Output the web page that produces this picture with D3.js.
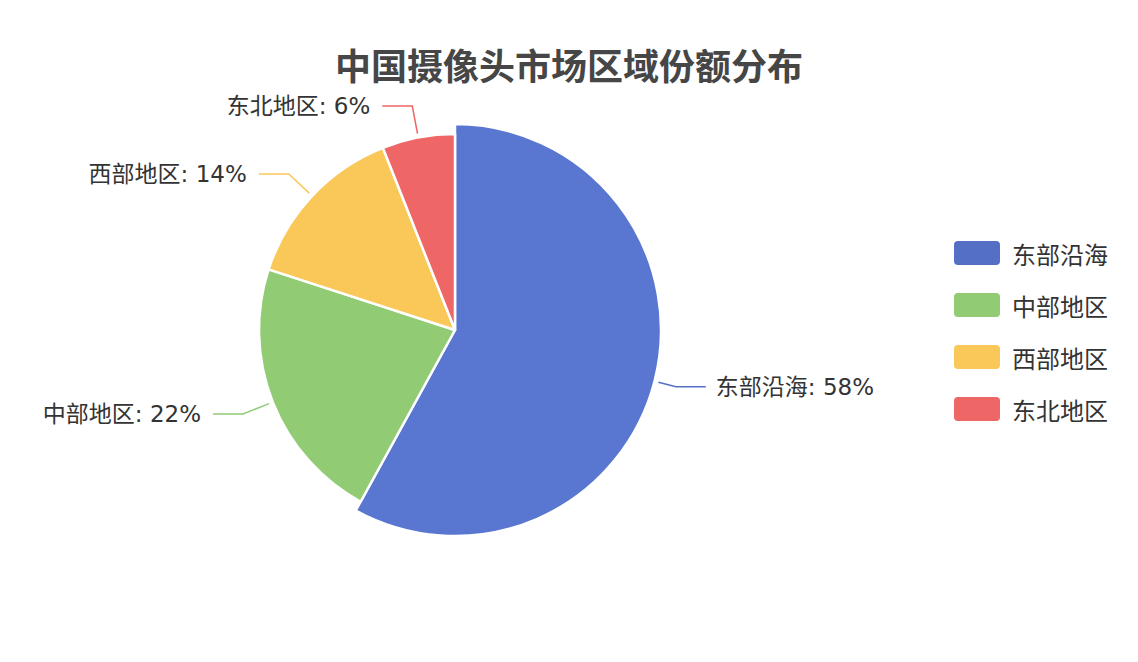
<!DOCTYPE html>
<html>
<head>
<meta charset="utf-8">
<script src="https://cdn.jsdelivr.net/npm/d3@7/dist/d3.min.js"></script>
<style>
  body { margin: 0; background: #fff; }
  svg text { font-family: "Microsoft YaHei", "Noto Sans CJK SC", sans-serif; }
  svg text.pie-label { font-family: "DejaVu Sans", "Noto Sans CJK SC", sans-serif; }
</style>
</head>
<body>
<div id="chart"></div>
<script>
// data
var regions = ["东部沿海", "中部地区", "西部地区", "东北地区"];
var shares = [58, 22, 14, 6];
var colors = ["#5470c6", "#91cc75", "#fac858", "#ee6666"];
var chartTitle = "中国摄像头市场区域份额分布";

var width = 1138,
    height = 662,
    cx = 455,
    cy = 330,
    radius = 196,
    hoverIndex = 0; // first slice drawn enlarged, as in the picture

var svg = d3.select("#chart").append("svg")
    .attr("width", width)
    .attr("height", height);

// title
svg.append("text")
    .attr("x", width / 2)
    .attr("y", 64)
    .attr("text-anchor", "middle")
    .attr("dominant-baseline", "central")
    .style("font-size", "36px")
    .style("font-weight", "bold")
    .style("fill", "#464646")
    .text(chartTitle);

var data = regions.map(function (r, i) { return { name: r, value: shares[i], color: colors[i], i: i }; });

var pie = d3.pie()
    .sort(null)
    .value(function (d) { return d.value; });

var arcs = pie(data);

function outerR(d) { return d.data.i === hoverIndex ? radius + 10 : radius; }

var arc = d3.arc()
    .innerRadius(0)
    .outerRadius(outerR);

var g = svg.append("g")
    .attr("transform", "translate(" + cx + "," + cy + ")");

g.selectAll(".slice")
    .data(arcs)
    .enter().append("path")
    .attr("class", "slice")
    .attr("d", arc)
    .style("fill", function (d) { return d.data.i === hoverIndex ? d3.color(d.data.color).brighter(0.15) : d.data.color; })
    .style("stroke", "#fff")
    .style("stroke-width", 2.5)
    .style("stroke-linejoin", "round");

// label lines and labels
var elbowR = radius + 32,
    len2 = 30;

function mid(d) { return (d.startAngle + d.endAngle) / 2; }

var labels = g.selectAll(".label")
    .data(arcs)
    .enter().append("g")
    .attr("class", "label");

labels.append("polyline")
    .attr("points", function (d) {
        var a = mid(d), s = Math.sin(a), c = -Math.cos(a);
        var r0 = outerR(d) + 4;
        var p1 = [r0 * s, r0 * c],
            p2 = [elbowR * s, elbowR * c],
            p3 = [p2[0] + (s > 0 ? len2 : -len2), p2[1]];
        return [p1, p2, p3].map(function (p) { return p.join(","); }).join(" ");
    })
    .style("fill", "none")
    .style("stroke", function (d) { return d.data.color; })
    .style("stroke-width", 1.5);

labels.append("text")
    .attr("class", "pie-label")
    .attr("x", function (d) {
        var s = Math.sin(mid(d));
        return elbowR * s + (s > 0 ? len2 + 10 : -len2 - 12);
    })
    .attr("y", function (d) { return -elbowR * Math.cos(mid(d)); })
    .attr("text-anchor", function (d) { return Math.sin(mid(d)) > 0 ? "start" : "end"; })
    .attr("dominant-baseline", "central")
    .style("font-size", "23px")
    .style("fill", "#333")
    .text(function (d) { return d.data.name + ": " + d.data.value + "%"; });

// legend
var legend = svg.append("g")
    .attr("transform", "translate(954,253)");

var item = legend.selectAll(".item")
    .data(data)
    .enter().append("g")
    .attr("class", "item")
    .attr("transform", function (d, i) { return "translate(0," + i * 52 + ")"; });

item.append("rect")
    .attr("x", 0)
    .attr("y", -12)
    .attr("width", 46)
    .attr("height", 24)
    .attr("rx", 4)
    .style("fill", function (d) { return d.color; });

item.append("text")
    .attr("x", 58)
    .attr("y", 0)
    .attr("dominant-baseline", "central")
    .style("font-size", "24px")
    .style("fill", "#333")
    .text(function (d) { return d.name; });
</script>
</body>
</html>
